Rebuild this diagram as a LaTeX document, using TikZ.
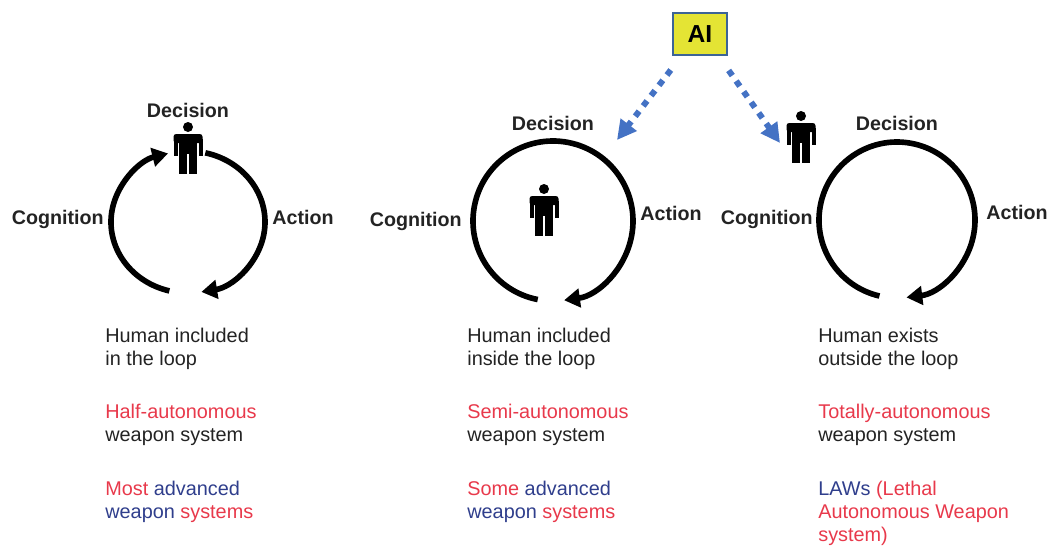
\documentclass[tikz,border=0pt]{standalone}
\usepackage{fontspec}
\setmainfont{Liberation Sans}
\usetikzlibrary{arrows.meta}

\definecolor{redtxt}{RGB}{232,57,75}
\definecolor{bluetxt}{RGB}{47,62,140}
\definecolor{aiblue}{RGB}{68,114,196}
\definecolor{aiyellow}{RGB}{228,228,52}
\definecolor{aiframe}{RGB}{60,100,150}
\definecolor{txt}{RGB}{35,35,35}

\tikzset{
  loopline/.style={line width=3.2pt, -{Triangle[length=9pt,width=10.5pt]}},
  aiarrow/.style={aiblue, line width=3.4pt, dash pattern=on 3.6pt off 3.8pt,
    shorten <=10pt, -{Triangle[length=11pt,width=11pt]}},
  lbl/.style={font=\fontsize{11.2}{13}\selectfont\bfseries, text=txt, inner sep=0pt},
  body/.style={font=\fontsize{11.3}{13}\selectfont, text=txt, align=left,
    anchor=north west, inner sep=0pt},
  human/.pic={
    \fill (0,-21) circle (5);
    \fill[rounded corners=1.5pt] (-14.5,-14) rectangle (14.5,-5);
    \fill (-14.5,-9) rectangle (-10.5,8);
    \fill (10.5,-9) rectangle (14.5,8);
    \fill (-9,-14) rectangle (9,6);
    \fill (-9,4) rectangle (-1,26);
    \fill (1,4) rectangle (9,26);
  }
}

\begin{document}
\begin{tikzpicture}[x=0.2mm,y=-0.2mm]
\useasboundingbox (0,0) rectangle (1050,550);

\node[draw=aiframe, fill=aiyellow, line width=1.2pt, minimum width=10.8mm,
  minimum height=8.4mm, font=\fontsize{14}{16}\selectfont\bfseries] (ai) at (700,34) {AI};

\coordinate (cL) at (188,222);
\coordinate (cM) at (553,221);
\coordinate (cR) at (897,220);
\coordinate (tipM) at (617,140);
\coordinate (tipR) at (780,143);

\draw[loopline] (cL) ++(104:77 and 71) arc[start angle=104, end angle=255, x radius=77, y radius=71];
\draw[loopline] (cL) ++(283:77 and 71) arc[start angle=283, end angle=440, x radius=77, y radius=71];
\draw[loopline] (cM) ++(101:80) arc[start angle=101, end angle=442, radius=80];
\draw[loopline] (cR) ++(103:78) arc[start angle=103, end angle=443, radius=78];

\draw[aiarrow] (ai.-130) -- (tipM);
\draw[aiarrow] (ai.-50) -- (tipR);

\pic at (188,148) {human};
\pic at (544,210) {human};
\pic at (801,137) {human};

\node[lbl, anchor=mid] (decL) at (188,113) {Decision};
\node[lbl, anchor=mid east] (cogL) at (104,220) {Cognition};
\node[lbl, anchor=mid west] (actL) at (272,220) {Action};
\node[lbl, anchor=mid] (decM) at (553,126) {Decision};
\node[lbl, anchor=mid east] (cogM) at (462,222) {Cognition};
\node[lbl, anchor=mid west] (actM) at (640,216) {Action};
\node[lbl, anchor=mid] (decR) at (897,126) {Decision};
\node[lbl, anchor=mid east] (cogR) at (813,220) {Cognition};
\node[lbl, anchor=mid west] (actR) at (986,215) {Action};

\node[body] (loopL) at (105,328) {Human included\\in the loop};
\node[body] (typeL) at (105,404) {\textcolor{redtxt}{Half-autonomous}\\weapon system};
\node[body] (techL) at (105,481) {\textcolor{redtxt}{Most} \textcolor{bluetxt}{advanced}\\
  \textcolor{bluetxt}{weapon} \textcolor{redtxt}{systems}};

\node[body] (loopM) at (467,328) {Human included\\inside the loop};
\node[body] (typeM) at (467,404) {\textcolor{redtxt}{Semi-autonomous}\\weapon system};
\node[body] (techM) at (467,481) {\textcolor{redtxt}{Some} \textcolor{bluetxt}{advanced}\\
  \textcolor{bluetxt}{weapon} \textcolor{redtxt}{systems}};

\node[body] (loopR) at (818,328) {Human exists\\outside the loop};
\node[body] (typeR) at (818,404) {\textcolor{redtxt}{Totally-autonomous}\\weapon system};
\node[body] (techR) at (818,481) {\textcolor{bluetxt}{LAWs} \textcolor{redtxt}{(Lethal}\\
  \textcolor{redtxt}{Autonomous Weapon}\\\textcolor{redtxt}{system)}};

\end{tikzpicture}
\end{document}
